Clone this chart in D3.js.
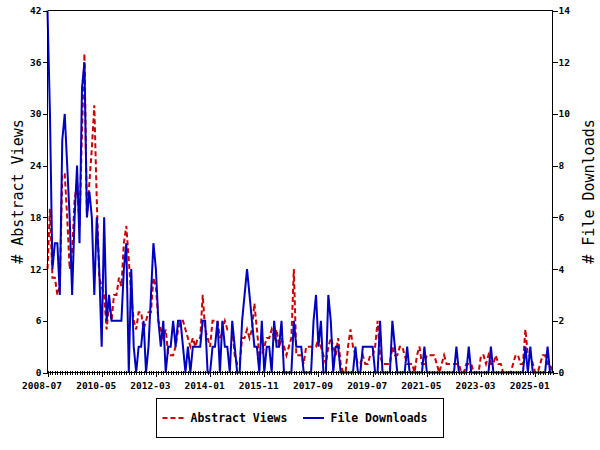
<!DOCTYPE html>
<html>
<head>
<meta charset="utf-8">
<script src="https://cdn.jsdelivr.net/npm/d3@7"></script>
<style>
  html, body { margin: 0; padding: 0; background: #fff; }
  svg { display: block; }
</style>
</head>
<body>
<svg id="chart" width="600" height="450"></svg>
<script>
// ---------- data ----------
const startYear = 2008, startMonth = 7; // first data month: 2008-07
const tickLabels = ["2008-07","2010-05","2012-03","2014-01","2015-11","2017-09","2019-07","2021-05","2023-03","2025-01"];
const seriesNames = ["Abstract Views", "File Downloads"];
const leftTicks = [0, 6, 12, 18, 24, 30, 36, 42];
const rightTicks = [0, 2, 4, 6, 8, 10, 12, 14];

// monthly abstract views (left axis)
const views = [
  12,19,11,11,9,10,23,23,18,12,
  14,20,22,17,28,37,18,22,26,31,
  20,11,10,9,5,8,6,9,9,11,
  10,15,17,13,9,6,5,7,7,5,
  6,7,7,11,10,6,5,4,5,2,
  2,2,3,5,6,6,5,4,3,4,
  3,4,4,9,5,4,3,6,6,6,
  4,5,6,5,5,5,2,1,1,4,
  4,5,4,5,8,5,2,2,3,4,
  4,5,4,5,3,4,3,2,3,4,
  12,2,2,2,1,3,3,3,3,3,
  4,3,2,1,3,4,3,2,4,1,
  0,0,3,5,3,2,1,1,2,1,
  1,2,2,3,6,2,1,1,1,1,
  3,2,2,3,3,2,1,1,1,0,
  2,3,1,1,2,2,2,2,1,0,
  1,2,1,1,1,1,1,1,0,0,
  1,1,1,0,0,0,2,2,1,2,
  1,1,2,1,1,0,0,0,0,1,
  2,2,1,1,5,2,2,1,0,0,
  1,2,2,1,1,0
];
// monthly file downloads (right axis)
const downloads = [
  14,10,4,5,5,3,9,10,8,6,
  3,6,8,5,11,12,6,7,6,3,
  6,4,1,6,2,3,2,2,2,2,
  2,4,5,0,4,1,0,1,1,2,
  0,1,3,5,4,2,1,2,0,1,
  1,2,1,2,2,1,0,1,0,1,
  1,1,1,2,2,0,0,1,1,2,
  0,2,1,1,0,2,1,0,0,2,
  3,4,3,2,1,1,0,2,0,1,
  1,0,2,1,1,2,0,0,0,0,
  2,1,1,1,0,0,0,0,2,3,
  1,2,0,0,3,2,0,1,1,0,
  0,0,0,0,0,1,0,0,1,1,
  1,1,1,0,0,2,0,0,0,0,
  2,1,0,0,0,0,1,0,0,0,
  0,0,0,1,0,0,0,0,0,0,
  0,0,0,0,0,0,1,0,0,0,
  0,1,0,0,0,0,0,0,0,0,
  1,0,0,0,0,0,0,0,0,0,
  0,0,0,0,1,0,1,0,0,0,
  0,0,0,1,0,0
];

// ---------- layout ----------
const W = 600, H = 450;
const plot = { left: 47.5, right: 552.5, top: 10.5, bottom: 372.5 };
const RED = "#cc0000", BLUE = "#0000c0";
const FONT = "'DejaVu Sans Mono', monospace";

const svg = d3.select("#chart");
svg.append("rect").attr("width", W).attr("height", H).attr("fill", "#fff");

const n = views.length;
const monthLabel = i => {
  const t = (startMonth - 1) + i;
  const y = startYear + Math.floor(t / 12), m = (t % 12) + 1;
  return y + "-" + String(m).padStart(2, "0");
};
const labels = d3.range(n).map(monthLabel);

const x = d3.scaleLinear().domain([0, n - 1]).range([plot.left, plot.right]);
const yL = d3.scaleLinear().domain([0, 42]).range([plot.bottom, plot.top]);
const yR = d3.scaleLinear().domain([0, 14]).range([plot.bottom, plot.top]);

// ---------- series ----------
const lineV = d3.line().x((d, i) => x(i)).y(d => yL(d));
const lineD = d3.line().x((d, i) => x(i)).y(d => yR(d));

svg.append("path").datum(views)
  .attr("d", lineV).attr("fill", "none")
  .attr("stroke", RED).attr("stroke-width", 2)
  .attr("stroke-dasharray", "5,3");
svg.append("path").datum(downloads)
  .attr("d", lineD).attr("fill", "none")
  .attr("stroke", BLUE).attr("stroke-width", 2);

// ---------- frame ----------
const frame = svg.append("g").attr("stroke", "#000").attr("stroke-width", 1)
  .attr("shape-rendering", "crispEdges");
frame.append("line").attr("x1", plot.left).attr("x2", plot.right).attr("y1", plot.top).attr("y2", plot.top);
frame.append("line").attr("x1", plot.left).attr("x2", plot.left).attr("y1", plot.top).attr("y2", plot.bottom);
frame.append("line").attr("x1", plot.right).attr("x2", plot.right).attr("y1", plot.top).attr("y2", plot.bottom);
frame.append("line").attr("x1", plot.left).attr("x2", plot.right).attr("y1", plot.bottom).attr("y2", plot.bottom);

function styleAxis(g, size) {
  g.select(".domain").remove();
  g.selectAll("line").attr("stroke", "#000").attr("shape-rendering", "crispEdges");
  g.selectAll("text").attr("font-family", FONT).attr("font-weight", "bold")
    .attr("font-size", size).attr("fill", "#000");
}

// left axis
svg.append("g").attr("transform", `translate(${plot.left},0)`)
  .call(d3.axisLeft(yL).tickValues(leftTicks).tickSize(5).tickPadding(1).tickFormat(d3.format("d")))
  .call(g => styleAxis(g, "9.5px"));
// right axis
svg.append("g").attr("transform", `translate(${plot.right},0)`)
  .call(d3.axisRight(yR).tickValues(rightTicks).tickSize(5).tickPadding(1).tickFormat(d3.format("d")))
  .call(g => styleAxis(g, "9.5px"));

// x minor ticks (every month, crossing the axis)
svg.append("g").attr("transform", `translate(0,${plot.bottom - 2})`)
  .call(d3.axisBottom(x).tickValues(d3.range(n)).tickSize(4).tickFormat(""))
  .call(g => styleAxis(g, "9.5px"));
// x major ticks with labels (labels sit slightly left of their tick, as in the original)
const majorIdx = tickLabels.map(l => labels.indexOf(l));
svg.append("g").attr("transform", `translate(0,${plot.bottom - 2})`)
  .call(d3.axisBottom(x).tickValues(majorIdx).tickSize(6).tickPadding(6)
    .tickFormat(i => labels[i]))
  .call(g => styleAxis(g, "9.5px"))
  .call(g => g.selectAll("text").attr("dx", -6));

// axis titles
svg.append("text")
  .attr("transform", `translate(23,${(plot.top + plot.bottom) / 2}) rotate(-90)`)
  .attr("text-anchor", "middle").attr("font-family", FONT).attr("font-size", "15px")
  .attr("fill", "#000").text("# Abstract Views");
svg.append("text")
  .attr("transform", `translate(594,${(plot.top + plot.bottom) / 2}) rotate(-90)`)
  .attr("text-anchor", "middle").attr("font-family", FONT).attr("font-size", "15px")
  .attr("fill", "#000").text("# File Downloads");

// ---------- legend ----------
const lg = svg.append("g");
lg.append("rect").attr("x", 156.5).attr("y", 398.5).attr("width", 287).attr("height", 39)
  .attr("fill", "#fff").attr("stroke", "#000").attr("stroke-width", 1)
  .attr("shape-rendering", "crispEdges");
const legendItems = [
  { name: seriesNames[0], color: RED, dash: "5,3", x0: 162.5, tx: 190.5 },
  { name: seriesNames[1], color: BLUE, dash: null, x0: 303, tx: 330.5 }
];
legendItems.forEach(it => {
  lg.append("line").attr("x1", it.x0).attr("x2", it.x0 + 21).attr("y1", 418).attr("y2", 418)
    .attr("stroke", it.color).attr("stroke-width", 2)
    .attr("stroke-dasharray", it.dash);
  lg.append("text").attr("x", it.tx).attr("y", 422)
    .attr("font-family", FONT).attr("font-weight", "bold").attr("font-size", "11.5px")
    .attr("fill", "#000").text(it.name);
});
</script>
</body>
</html>
